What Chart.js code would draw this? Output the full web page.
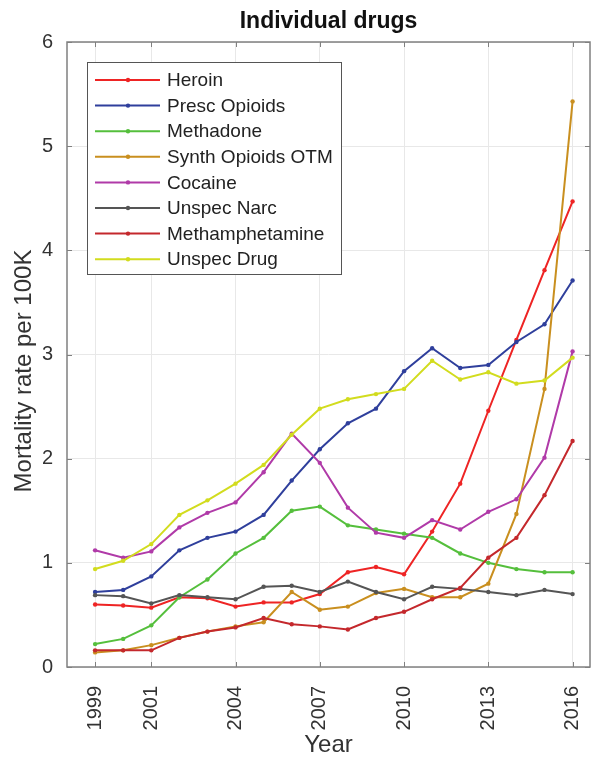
<!DOCTYPE html>
<html>
<head>
<meta charset="utf-8">
<script src="https://cdn.jsdelivr.net/npm/chart.js@4/dist/chart.umd.min.js"></script>
<style>
  html, body { margin: 0; padding: 0; background: #ffffff; }
  #wrap { width: 594px; height: 760px; position: relative; }
</style>
</head>
<body>
<div id="wrap"><canvas id="c" width="594" height="760"></canvas></div>
<script>
const years = [1999,2000,2001,2002,2003,2004,2005,2006,2007,2008,2009,2010,2011,2012,2013,2014,2015,2016];
const tickYears = [1999,2001,2004,2007,2010,2013,2016];
const yTicks = [0,1,2,3,4,5,6];

const seriesNames = ["Heroin","Presc Opioids","Methadone","Synth Opioids OTM","Cocaine","Unspec Narc","Methamphetamine","Unspec Drug"];
const heroin        = [0.60,0.59,0.57,0.67,0.66,0.58,0.62,0.62,0.70,0.91,0.96,0.89,1.30,1.76,2.46,3.14,3.81,4.47];
const prescOpioids  = [0.72,0.74,0.87,1.12,1.24,1.30,1.46,1.79,2.09,2.34,2.48,2.84,3.06,2.87,2.90,3.12,3.29,3.71];
const methadone     = [0.22,0.27,0.40,0.67,0.84,1.09,1.24,1.50,1.54,1.36,1.32,1.28,1.24,1.09,1.00,0.94,0.91,0.91];
const synthOpioids  = [0.14,0.16,0.21,0.28,0.34,0.39,0.43,0.72,0.55,0.58,0.71,0.75,0.67,0.67,0.80,1.47,2.67,5.43];
const cocaine       = [1.12,1.05,1.11,1.34,1.48,1.58,1.87,2.24,1.96,1.53,1.29,1.24,1.41,1.32,1.49,1.61,2.01,3.03];
const unspecNarc    = [0.69,0.68,0.61,0.69,0.67,0.65,0.77,0.78,0.72,0.82,0.72,0.65,0.77,0.75,0.72,0.69,0.74,0.70];
const methamph      = [0.16,0.16,0.16,0.28,0.34,0.38,0.47,0.41,0.39,0.36,0.47,0.53,0.65,0.76,1.05,1.24,1.65,2.17];
const unspecDrug    = [0.94,1.02,1.18,1.46,1.60,1.76,1.94,2.23,2.48,2.57,2.62,2.67,2.94,2.76,2.83,2.72,2.75,2.97];

const seriesValues = [heroin, prescOpioids, methadone, synthOpioids, cocaine, unspecNarc, methamph, unspecDrug];
const seriesColors = ["#ee2424","#2f3f9c","#55bf3c","#c98f1f","#b03aa8","#555555","#c4282c","#d2dc1e"];

const FONT = "'Liberation Sans', Arial, Helvetica, sans-serif";
const TEXT = "#333333";

const datasets = seriesNames.map((name, i) => ({
  label: name,
  data: years.map((yr, j) => ({ x: yr, y: seriesValues[i][j] })),
  borderColor: seriesColors[i],
  backgroundColor: seriesColors[i],
  borderWidth: 2,
  pointRadius: 2.2,
  pointBorderWidth: 0,
  pointBackgroundColor: seriesColors[i],
  tension: 0,
  order: seriesNames.length - i
}));

const framePlugin = {
  id: 'frame',
  afterDatasetsDraw(chart) {
    const { ctx, chartArea: a, scales } = chart;
    ctx.save();
    // inward tick marks
    ctx.strokeStyle = '#808080';
    ctx.lineWidth = 1;
    ctx.beginPath();
    tickYears.forEach(v => {
      const px = Math.round(scales.x.getPixelForValue(v)) + 0.5;
      ctx.moveTo(px, a.bottom); ctx.lineTo(px, a.bottom - 5);
      ctx.moveTo(px, a.top); ctx.lineTo(px, a.top + 5);
    });
    yTicks.forEach(v => {
      const py = Math.round(scales.y.getPixelForValue(v)) + 0.5;
      ctx.moveTo(a.left, py); ctx.lineTo(a.left + 5, py);
      ctx.moveTo(a.right, py); ctx.lineTo(a.right - 5, py);
    });
    ctx.stroke();
    ctx.lineWidth = 1.5;
    ctx.strokeRect(a.left, a.top, a.right - a.left, a.bottom - a.top);

    // legend box
    const lx = 87, ly = 62, lw = 254, lh = 212;
    ctx.fillStyle = '#ffffff';
    ctx.fillRect(lx, ly, lw, lh);
    ctx.strokeStyle = '#555555';
    ctx.lineWidth = 1;
    ctx.strokeRect(lx + 0.5, ly + 0.5, lw, lh);
    ctx.font = "19px " + FONT;
    ctx.textBaseline = 'middle';
    ctx.textAlign = 'left';
    chart.data.datasets.forEach((ds, i) => {
      const yy = 80 + i * 25.6;
      ctx.strokeStyle = ds.borderColor;
      ctx.lineWidth = 2;
      ctx.beginPath();
      ctx.moveTo(95, yy); ctx.lineTo(160, yy);
      ctx.stroke();
      ctx.fillStyle = ds.borderColor;
      ctx.beginPath();
      ctx.arc(128, yy, 2.2, 0, Math.PI * 2);
      ctx.fill();
      ctx.fillStyle = '#222222';
      ctx.fillText(ds.label, 167, yy + 1);
    });

    // y axis title
    ctx.save();
    ctx.translate(24, 371);
    ctx.rotate(-Math.PI / 2);
    ctx.font = "24px " + FONT;
    ctx.fillStyle = TEXT;
    ctx.textAlign = 'center';
    ctx.textBaseline = 'middle';
    ctx.fillText('Mortality rate per 100K', 0, 0);
    ctx.restore();
    ctx.restore();
  }
};

new Chart(document.getElementById('c'), {
  type: 'line',
  data: { datasets },
  plugins: [framePlugin],
  options: {
    responsive: false,
    animation: false,
    events: [],
    layout: { padding: { left: 0, right: 0, top: 0, bottom: 0 } },
    plugins: {
      legend: { display: false },
      tooltip: { enabled: false },
      title: {
        display: true,
        text: 'Individual drugs',
        fullSize: false,
        color: '#111111',
        font: { family: "'Liberation Sans Narrow', 'Arial Narrow', " + FONT, size: 23, weight: 'bold', lineHeight: 1.2 },
        padding: { top: 8, bottom: 6.4 }
      }
    },
    scales: {
      x: {
        type: 'linear',
        min: 1998,
        max: 2016.62,
        afterBuildTicks: (scale) => { scale.ticks = tickYears.map(v => ({ value: v })); },
        afterFit: (scale) => { scale.height = 93; scale.paddingLeft = 0; scale.paddingRight = 0; },
        ticks: {
          autoSkip: false,
          minRotation: 90,
          maxRotation: 90,
          padding: 19,
          color: TEXT,
          font: { family: FONT, size: 20 },
          callback: (v) => String(v)
        },
        grid: { color: '#e8e8e8', lineWidth: 1, drawTicks: false },
        border: { display: false },
        title: {
          display: true,
          text: 'Year',
          color: TEXT,
          font: { family: FONT, size: 24 },
          padding: { top: 0, bottom: 0 }
        }
      },
      y: {
        type: 'linear',
        min: 0,
        max: 6,
        afterBuildTicks: (scale) => { scale.ticks = yTicks.map(v => ({ value: v })); },
        afterFit: (scale) => { scale.width = 67; scale.paddingTop = 0; scale.paddingBottom = 0; },
        ticks: {
          padding: 14,
          color: TEXT,
          font: { family: FONT, size: 20 },
          callback: (v) => String(v)
        },
        grid: { color: '#e8e8e8', lineWidth: 1, drawTicks: false },
        border: { display: false }
      }
    }
  }
});
</script>
</body>
</html>
